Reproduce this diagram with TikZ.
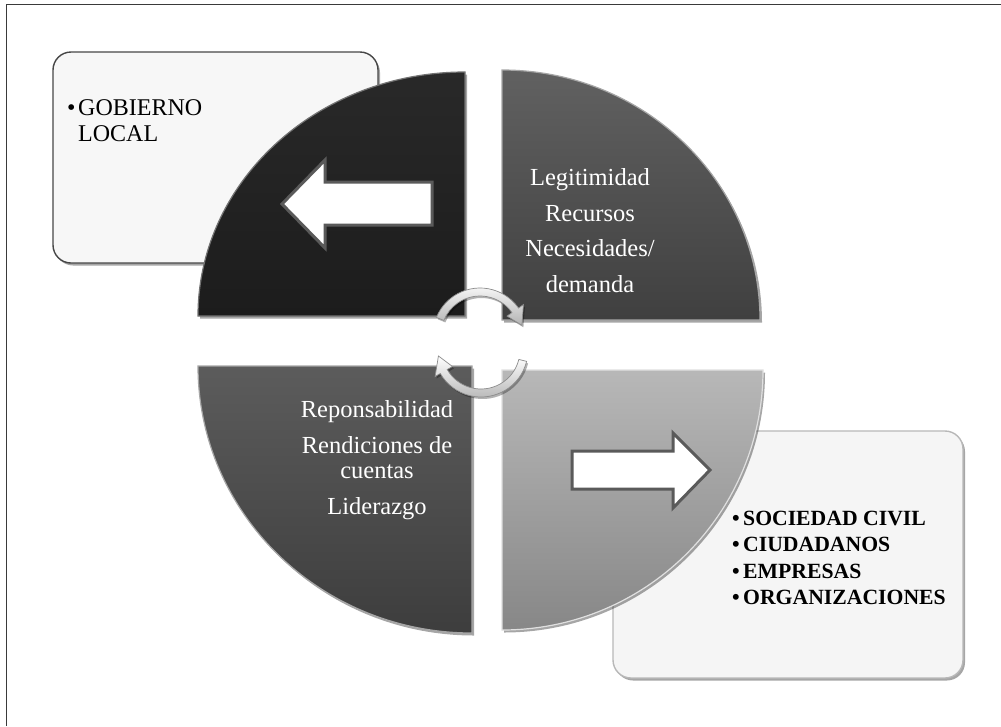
\documentclass[tikz,border=0pt]{standalone}
\usepackage{fontspec}
\setmainfont{Liberation Serif}
\usetikzlibrary{shadows,calc}
\definecolor{framecol}{HTML}{3A3A3A}
\definecolor{arrowedge}{HTML}{5A5A5A}
\begin{document}
\begin{tikzpicture}[x=1pt,y=-1pt,
  softshadow/.style={drop shadow={shadow xshift=2pt,shadow yshift=-2.5pt,opacity=0.35,fill=black}},
  infobox/.style={rounded corners=18pt, line width=1.4pt, softshadow},
  quad/.style={line width=1.2pt, softshadow},
  bigarrow/.style={fill=white, draw=arrowedge, line width=3pt, line join=miter},
  cyc/.style={top color=white, bottom color=black!30, draw=black!45, line width=0.7pt,
              drop shadow={shadow xshift=1.5pt,shadow yshift=-2pt,opacity=0.3,fill=black}},
  wtext/.style={text=white, font=\fontsize{24.5}{29}\selectfont, anchor=base, inner sep=0pt},
  gtext/.style={text=black, font=\fontsize{24}{26}\selectfont, anchor=base west, inner sep=0pt},
  btext/.style={text=black, font=\fontsize{21.7}{26}\selectfont\bfseries, anchor=base west, inner sep=0pt}
]
\useasboundingbox (0,0) rectangle (1001,726);
\fill[white] (0,0) rectangle (1001,726);
% outer frame (only top and left edges visible)
\draw[framecol, line width=1.5pt] (6.5,726) -- (6.5,4.5) -- (1001,4.5);

% information boxes (behind the quadrants)
\path[infobox, fill=black!3, draw=black!72] (53,52) rectangle (378,263);
\path[infobox, fill=black!4, draw=black!28] (613,431) rectangle (963,678);

% quadrants
\path[quad, top color=black!84, bottom color=black!89, draw=black!55]
  (465,316) -- (198,316) arc[start angle=180, end angle=270, x radius=267, y radius=244] -- cycle;
\path[quad, top color=black!62, bottom color=black!75, draw=black!35]
  (502,320) -- (502,70) arc[start angle=270, end angle=360, x radius=258, y radius=250] -- cycle;
\path[quad, top color=black!64, bottom color=black!76, draw=black!35]
  (472,366) -- (198,366) arc[start angle=180, end angle=90, x radius=274, y radius=267] -- cycle;
\path[quad, top color=black!28, bottom color=black!47, draw=black!12]
  (502,370) -- (763,370) arc[start angle=0, end angle=90, x radius=261, y radius=260] -- cycle;

% big block arrows
\draw[bigarrow] (432,182) -- (325,182) -- (325,160) -- (282,204) -- (325,248) -- (325,225) -- (432,225) -- cycle;
\draw[bigarrow] (572,451) -- (673,451) -- (673,433) -- (710,470) -- (673,508) -- (673,489) -- (572,489) -- cycle;

% circular arrows
\coordinate (c1) at (480,335);
\coordinate (c2) at (481,350);
\path[cyc] ($(c1)+(202:47)$) arc[start angle=202,end angle=325,radius=47]
  -- ($(c1)+(325:53)$) -- ($(c1)+(347:43)$) -- ($(c1)+(325:33)$)
  -- ($(c1)+(325:39)$) arc[start angle=325,end angle=202,radius=39] -- cycle;
\path[cyc] ($(c2)+(14:47)$) arc[start angle=14,end angle=150,radius=47]
  -- ($(c2)+(150:53)$) -- ($(c2)+(172:43)$) -- ($(c2)+(150:33)$)
  -- ($(c2)+(150:39)$) arc[start angle=150,end angle=14,radius=39] -- cycle;

% texts: gobierno box
\node[gtext] (g1) at (67,115) {\makebox[11pt][l]{•}GOBIERNO};
\node[gtext] (g2) at (78,141) {LOCAL};

% texts: top-right quadrant
\node[wtext] (t1) at (590,185) {Legitimidad};
\node[wtext] (t2) at (590,221) {Recursos};
\node[wtext] (t3) at (590,256) {Necesidades/};
\node[wtext] (t4) at (590,292) {demanda};

% texts: bottom-left quadrant
\node[wtext] (b1) at (377,417) {Reponsabilidad};
\node[wtext] (b2) at (377,453) {Rendiciones de};
\node[wtext] (b3) at (377,478) {cuentas};
\node[wtext] (b4) at (377,514) {Liderazgo};

% texts: sociedad box
\node[btext] (s1) at (732,525) {\makebox[11pt][l]{•}SOCIEDAD CIVIL};
\node[btext] (s2) at (732,551) {\makebox[11pt][l]{•}CIUDADANOS};
\node[btext] (s3) at (732,578) {\makebox[11pt][l]{•}EMPRESAS};
\node[btext] (s4) at (732,604) {\makebox[11pt][l]{•}ORGANIZACIONES};
\end{tikzpicture}
\end{document}
